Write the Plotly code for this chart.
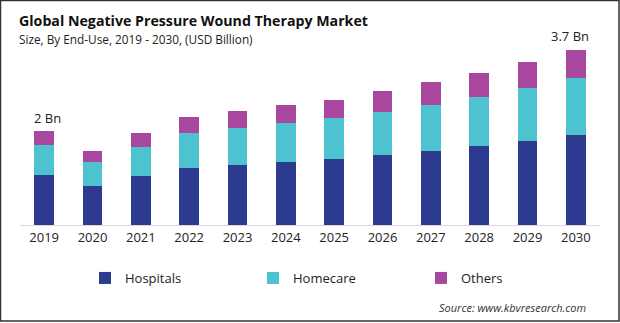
import plotly.graph_objects as go

years = ["2019", "2020", "2021", "2022", "2023", "2024", "2025", "2026", "2027", "2028", "2029", "2030"]
hospitals = [1.06, 0.83, 1.04, 1.21, 1.28, 1.34, 1.40, 1.49, 1.57, 1.68, 1.79, 1.91]
homecare = [0.64, 0.51, 0.62, 0.74, 0.79, 0.83, 0.87, 0.91, 0.98, 1.04, 1.13, 1.21]
others = [0.30, 0.23, 0.30, 0.34, 0.36, 0.38, 0.40, 0.45, 0.49, 0.51, 0.55, 0.60]
series_names = ["Hospitals", "Homecare", "Others"]
colors = ["#2C3A8F", "#4EC3D0", "#A8479D"]
label_first = "2 Bn"
label_last = "3.7 Bn"

W, H = 620, 323
ml, mr, mt, mb = 20, 20, 40, 98

fig = go.Figure()
for name, vals, c in zip(series_names, [hospitals, homecare, others], colors):
    fig.add_trace(go.Bar(x=years, y=vals, name=name, marker=dict(color=c, line=dict(width=0))))

tot_first = hospitals[0] + homecare[0] + others[0]
tot_last = hospitals[-1] + homecare[-1] + others[-1]

fig.add_annotation(x=0, y=tot_first, text=label_first, showarrow=False,
                   yanchor="bottom", yshift=2, xshift=3, font=dict(size=13, color="#222"))
fig.add_annotation(x=len(years) - 1, y=tot_last, text=label_last, showarrow=False,
                   yanchor="bottom", yshift=3, xshift=-6, font=dict(size=13, color="#222"))

pw = W - ml - mr
ph = H - mt - mb
def px2x(p):
    return (p - ml) / pw
def py2y(p):
    return (H - mb - p) / ph

fig.add_annotation(xref="paper", yref="paper", x=px2x(17), y=py2y(20), text="<b>Global Negative Pressure Wound Therapy Market</b>",
                   showarrow=False, xanchor="left", yanchor="middle", font=dict(size=14.2, color="#111", family="Open Sans"))
fig.add_annotation(xref="paper", yref="paper", x=px2x(17), y=py2y(39), text="Size, By End-Use, 2019 - 2030, (USD Billion)",
                   showarrow=False, xanchor="left", yanchor="middle", font=dict(size=11.8, color="#222", family="Open Sans"))
fig.add_annotation(xref="paper", yref="paper", x=px2x(588), y=py2y(307), text="<i>Source: www.kbvresearch.com</i>",
                   showarrow=False, xanchor="right", yanchor="middle", font=dict(size=11, color="#333", family="Open Sans"))

fig.add_shape(type="rect", xref="paper", yref="paper", x0=px2x(0.5), x1=px2x(619), y0=py2y(0.5), y1=py2y(321),
              line=dict(color="#333", width=1.5), fillcolor="rgba(0,0,0,0)", layer="above")

fig.update_layout(
    width=W, height=H,
    margin=dict(l=ml, r=mr, t=mt, b=mb),
    barmode="stack", bargap=0.59,
    plot_bgcolor="white", paper_bgcolor="white",
    font=dict(family="Open Sans", size=13, color="#222"),
    showlegend=True,
    legend=dict(orientation="h", x=px2x(85), y=py2y(278), yanchor="middle", xanchor="left",
                entrywidth=123, entrywidthmode="pixels", font=dict(size=13, color="#222"),
                itemclick=False, traceorder="normal"),
    xaxis=dict(type="category", showgrid=False, showline=True, linecolor="#D9D9D9", linewidth=1, ticks="",
               tickfont=dict(size=13, color="#222"), range=[-0.5, 11.5]),
    yaxis=dict(visible=False, range=[0, ph / 47.0]),
)

fig.write_html("out.html")
